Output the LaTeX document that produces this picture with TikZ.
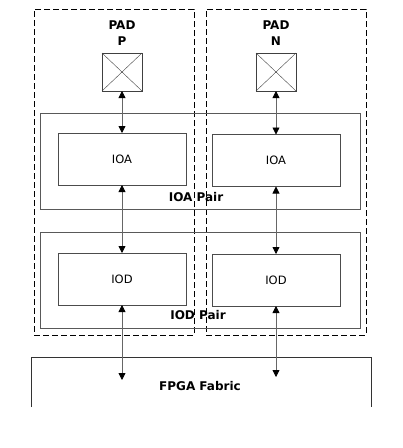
\documentclass[tikz,border=0pt]{standalone}
\usepackage{fontspec}
\setmainfont{DejaVu Sans}
\usetikzlibrary{positioning,arrows.meta}

\begin{document}
\begin{tikzpicture}[
    x=1pt, y=-1pt,
    font=\fontsize{11.5}{14}\selectfont,
    every node/.style={inner sep=0pt, outer sep=0pt},
    block/.style={draw=black!70, line width=0.8pt, rectangle, minimum width=128pt, minimum height=52pt},
    pairbox/.style={draw=black!65, line width=0.8pt, rectangle, minimum width=320pt, minimum height=96pt},
    half/.style={draw, dashed, line width=0.8pt, dash pattern=on 6pt off 3pt, rectangle, minimum width=160pt, minimum height=326pt},
    padbox/.style={draw=black!75, line width=0.8pt, rectangle, minimum width=40pt, minimum height=38pt},
    lbl/.style={font=\fontsize{12}{15.5}\selectfont\bfseries, align=center},
    tip/.tip={Triangle[length=7pt,width=7pt,color=black]},
    link/.style={tip-tip, draw=black!60, line width=0.8pt}
]
\useasboundingbox (0,0) rectangle (403,448);
% halves
\node (halfP) [half] at (114,172) {};
\node (halfN) [half] at (286,172) {};
% pads
\node (padP) [padbox] at (122,72) {};
\node (padN) [padbox] at (276,72) {};
\draw[black!75] (padP.north west) -- (padP.south east) (padP.south west) -- (padP.north east);
\draw[black!75] (padN.north west) -- (padN.south east) (padN.south west) -- (padN.north east);
\node (padPlbl) [lbl] at (122,33) {PAD\\P};
\node (padNlbl) [lbl] at (276,33) {PAD\\N};
% pairs
\node (ioaPair) [pairbox] at (200,161) {};
\node (iodPair) [pairbox] at (200,280.5) {};
\node (ioaPairlbl) [lbl] at (196,197) {IOA Pair};
\node (iodPairlbl) [lbl] at (198,315) {IOD Pair};
% blocks
\node (ioaP) [block] at (122,159) {IOA};
\node (ioaN) [block] at (276,160.5) {IOA};
\node (iodP) [block] at (122,279) {IOD};
\node (iodN) [block] at (276,280) {IOD};
% fabric
\draw[black!80, line width=0.8pt] (31,407) -- (31,357) -- (371,357) -- (371,407);
\node (fabric) [lbl] at (200,386) {FPGA Fabric};
\coordinate (fabP) at (122,380);
\coordinate (fabN) at (276,377);
% links
\draw[link] (padP) -- (ioaP);
\draw[link] (padN) -- (ioaN);
\draw[link] (ioaP) -- (iodP);
\draw[link] (ioaN) -- (iodN);
\draw[link] (iodP) -- (fabP);
\draw[link] (iodN) -- (fabN);
\end{tikzpicture}
\end{document}
